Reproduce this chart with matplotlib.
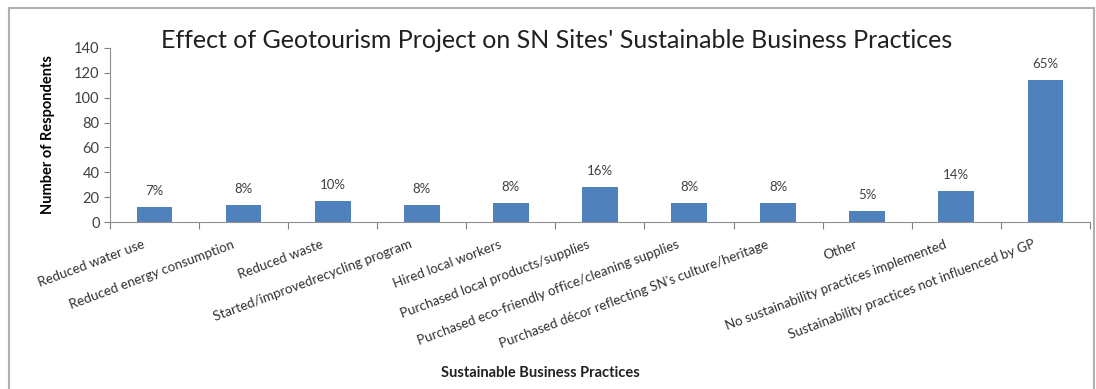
import matplotlib.pyplot as plt
from matplotlib.patches import Rectangle

plt.rcParams['font.family'] = ['Lato', 'DejaVu Sans']

categories = ['Reduced water use', 'Reduced energy consumption', 'Reduced waste',
              'Started/improvedrecycling program', 'Hired local workers',
              'Purchased local products/supplies',
              'Purchased eco-friendly office/cleaning supplies',
              'Purchased d\u00e9cor reflecting SN\'s culture/heritage', 'Other',
              'No sustainability practices implemented',
              'Sustainability practices not influenced by GP']
counts = [12, 14, 17, 14, 15, 28, 15, 15, 9, 25, 114]
pct_labels = ['7%', '8%', '10%', '8%', '8%', '16%', '8%', '8%', '5%', '14%', '65%']

fig = plt.figure(figsize=(10.96, 3.89), dpi=100)
ax = fig.add_axes([0.1004, 0.429, 0.894, 0.448])

x = list(range(len(categories)))
ax.bar(x, counts, width=0.4, color='#4F81BD', zorder=2)

for xx, yy, lab in zip(x, counts, pct_labels):
    ax.text(xx, yy + 8, lab, ha='center', va='bottom', fontsize=9.5, color='#404040')

ax.set_xlim(-0.5, len(categories) - 0.5)
ax.set_ylim(0, 140)
ax.set_yticks(range(0, 141, 20))
ax.tick_params(axis='y', labelsize=10.5, length=4, width=0.8,
               colors='#808080', labelcolor='#404040')

# category ticks sit between the bars, labels centred under the bars
ax.set_xticks([i - 0.5 for i in range(len(categories) + 1)])
ax.set_xticklabels([])
ax.tick_params(axis='x', length=5, width=0.8, colors='#808080')
for xx, lab in zip(x, categories):
    ax.text(xx - 0.14, -13, lab, rotation=20.5, ha='right', va='top',
            rotation_mode='anchor', fontsize=9.6, color='#303030')

for s in ['top', 'right']:
    ax.spines[s].set_visible(False)
for s in ['left', 'bottom']:
    ax.spines[s].set_color('#909090')
    ax.spines[s].set_linewidth(0.8)

ax.set_ylabel('Number of Respondents', fontsize=10.5, fontweight='bold', labelpad=14)
fig.text(0.493, 0.022, 'Sustainable Business Practices', ha='center', va='bottom',
         fontsize=10.5, fontweight='bold', color='#202020')
fig.text(0.508, 0.895, "Effect of Geotourism Project on SN Sites' Sustainable Business Practices",
         ha='center', va='center', fontsize=18, color='#202020')

# chart area border
fig.patches.append(Rectangle((0.008, -0.05), 0.99, 1.03, transform=fig.transFigure,
                             fill=False, edgecolor='#b0b0b0', linewidth=1.5))

fig.savefig('out.png', dpi=100)
